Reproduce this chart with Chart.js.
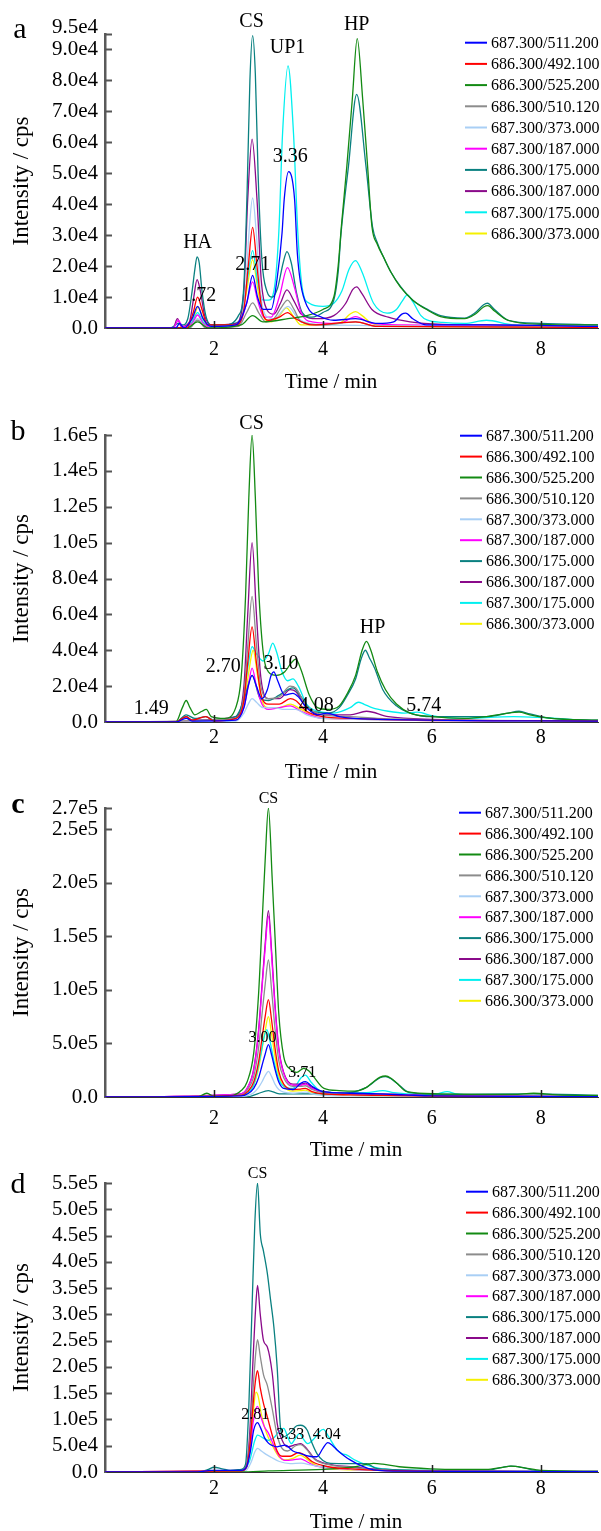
<!DOCTYPE html>
<html>
<head>
<meta charset="utf-8">
<script src="https://cdn.jsdelivr.net/npm/chart.js@4.4.1/dist/chart.umd.min.js"></script>
<style>
  html, body { margin: 0; padding: 0; background: #fff; }
  body { width: 601px; height: 1531px; position: relative; overflow: hidden; }
  canvas { position: absolute; left: 0; }
</style>
</head>
<body>
<canvas id="ca"></canvas>
<canvas id="cb"></canvas>
<canvas id="cc"></canvas>
<canvas id="cd"></canvas>
<script>
// values are read in units of 1e4 cps, time in min
const UNIT = 1e4;
const SERIF = '"Liberation Serif", "Times New Roman", serif';

const seriesNames = ["687.300/511.200", "686.300/492.100", "686.300/525.200", "686.300/510.120", "687.300/373.000",
  "687.300/187.000", "686.300/175.000", "686.300/187.000", "687.300/175.000", "686.300/373.000"];
const seriesColors = ["#0000ff", "#ff0000", "#138a13", "#8c8c8c", "#a9cff5",
  "#ff00ff", "#0a8080", "#8a0a8a", "#00f0f0", "#f5f000"];

const xTicks = [2, 4, 6, 8];

const aTickVals = [0, 1e4, 2e4, 3e4, 4e4, 5e4, 6e4, 7e4, 8e4, 9e4, 9.5e4];
const aTickLabels = ["0.0", "1.0e4", "2.0e4", "3.0e4", "4.0e4", "5.0e4", "6.0e4", "7.0e4", "8.0e4", "9.0e4", "9.5e4"];
const bTickVals = [0, 2e4, 4e4, 6e4, 8e4, 1e5, 1.2e5, 1.4e5, 1.6e5];
const bTickLabels = ["0.0", "2.0e4", "4.0e4", "6.0e4", "8.0e4", "1.0e5", "1.2e5", "1.4e5", "1.6e5"];
const cTickVals = [0, 5e4, 1e5, 1.5e5, 2e5, 2.5e5, 2.7e5];
const cTickLabels = ["0.0", "5.0e5", "1.0e5", "1.5e5", "2.0e5", "2.5e5", "2.7e5"];
const dTickVals = [0, 5e4, 1e5, 1.5e5, 2e5, 2.5e5, 3e5, 3.5e5, 4e5, 4.5e5, 5e5, 5.5e5];
const dTickLabels = ["0.0", "5.0e4", "1.0e5", "1.5e5", "2.0e5", "2.5e5", "3.0e5", "3.5e5", "4.0e5", "4.5e5", "5.0e5", "5.5e5"];

// ---- panel a ----
const aBlue = [[0,0],[1.3,0],[1.37,0.15],[1.45,0],[1.6,0.3],[1.7,0.7],[1.8,0.3],[1.95,0.05],[2.4,0.1],[2.6,0.8],[2.71,1.7],[2.8,1.0],[2.9,0.6],[3.05,0.6],[3.16,1.6],[3.25,3.07],[3.29,4.16],[3.37,5.05],[3.48,4.16],[3.53,2.43],[3.59,1.45],[3.71,0.7],[3.95,0.37],[4.2,0.25],[4.6,0.3],[5.0,0.15],[5.3,0.2],[5.45,0.45],[5.52,0.48],[5.65,0.3],[5.9,0.1],[7.0,0.1],[9.05,0.05]];
const aRed = [[0,0],[1.5,0],[1.62,0.5],[1.7,1.0],[1.78,0.6],[1.88,0.1],[2.4,0.1],[2.55,0.6],[2.63,2.0],[2.71,3.25],[2.79,2.0],[2.88,0.6],[3.0,0.25],[3.2,0.35],[3.35,0.5],[3.5,0.3],[3.8,0.1],[4.6,0.2],[5.0,0.05],[9.05,0.02]];
const aGreen = [[0,0],[1.5,0],[1.7,0.2],[1.9,0],[2.5,0.1],[2.71,0.4],[2.9,0.2],[3.36,0.3],[3.7,0.4],[4.0,0.6],[4.2,1.0],[4.28,2.0],[4.34,3.3],[4.44,5.24],[4.54,7.4],[4.63,9.35],[4.73,7.4],[4.82,5.24],[4.9,3.28],[5.0,2.7],[5.11,2.3],[5.25,1.8],[5.42,1.33],[5.65,0.9],[5.92,0.58],[6.16,0.37],[6.6,0.3],[6.8,0.45],[6.95,0.68],[7.03,0.72],[7.15,0.55],[7.4,0.25],[8,0.12],[9.05,0.1]];
const aGray = [[0,0],[1.55,0],[1.7,0.25],[1.85,0],[2.45,0.05],[2.6,0.5],[2.71,0.81],[2.82,0.5],[2.95,0.2],[3.1,0.3],[3.25,0.7],[3.35,0.9],[3.47,0.6],[3.6,0.2],[4.0,0.1],[4.6,0.2],[5.0,0.05],[9.05,0.02]];
const aLtBlue = [[0,0],[1.55,0],[1.7,0.3],[1.85,0],[2.45,0.1],[2.58,1.2],[2.64,3.0],[2.71,4.2],[2.78,3.0],[2.85,1.2],[2.95,0.4],[3.1,0.3],[3.36,0.7],[3.55,0.3],[4.0,0.1],[9.05,0.05]];
const aMagenta = [[0,0],[1.25,0],[1.35,0.25],[1.42,0.05],[1.6,0.15],[1.7,0.42],[1.8,0.15],[1.95,0.02],[2.45,0.1],[2.6,0.8],[2.71,1.49],[2.8,0.9],[2.92,0.35],[3.05,0.35],[3.2,1.0],[3.35,1.95],[3.48,1.3],[3.6,0.5],[3.8,0.2],[4.3,0.15],[4.6,0.37],[4.9,0.15],[5.5,0.1],[9.05,0.02]];
const aTeal = [[0,0],[1.2,0],[1.35,0.15],[1.42,0.1],[1.52,0.3],[1.6,1.2],[1.65,1.9],[1.69,2.3],[1.73,2.1],[1.78,1.2],[1.85,0.4],[1.95,0.1],[2.2,0.1],[2.45,0.4],[2.55,1.4],[2.61,4.5],[2.66,8.0],[2.71,9.45],[2.76,8.2],[2.81,5.0],[2.88,2.2],[2.97,1.2],[3.07,1.0],[3.17,1.3],[3.27,2.1],[3.34,2.47],[3.42,2.1],[3.52,1.1],[3.62,0.5],[3.8,0.35],[4.0,0.5],[4.2,0.9],[4.28,1.8],[4.33,3.0],[4.47,5.24],[4.62,7.55],[4.79,5.24],[4.91,3.28],[5.0,2.75],[5.11,2.3],[5.25,1.8],[5.42,1.35],[5.65,0.9],[5.92,0.6],[6.16,0.4],[6.6,0.32],[6.8,0.5],[6.95,0.75],[7.02,0.8],[7.15,0.6],[7.4,0.25],[8,0.15],[9.05,0.1]];
const aPurple = [[0,0],[1.25,0],[1.33,0.3],[1.4,0.05],[1.55,0.2],[1.63,1.0],[1.69,1.56],[1.75,1.2],[1.83,0.4],[1.95,0.1],[2.4,0.15],[2.55,1.2],[2.62,4.16],[2.7,6.1],[2.79,4.16],[2.87,1.5],[2.97,0.6],[3.1,0.45],[3.22,0.8],[3.34,1.23],[3.46,0.9],[3.6,0.45],[3.9,0.3],[4.2,0.4],[4.42,0.8],[4.55,1.25],[4.62,1.33],[4.72,1.1],[4.9,0.6],[5.2,0.35],[5.6,0.2],[6.2,0.12],[7.0,0.1],[9.05,0.05]];
const aCyan = [[0,0],[1.5,0],[1.6,0.2],[1.7,0.5],[1.8,0.2],[1.95,0.05],[2.45,0.2],[2.6,1.4],[2.71,2.5],[2.8,1.5],[2.9,0.9],[3.0,0.9],[3.1,1.2],[3.19,3.07],[3.26,6.3],[3.36,8.47],[3.46,6.3],[3.54,3.07],[3.62,1.3],[3.75,0.8],[4.0,0.7],[4.2,0.8],[4.35,1.2],[4.48,1.9],[4.6,2.18],[4.72,1.8],[4.93,0.8],[5.18,0.48],[5.35,0.6],[5.45,0.85],[5.55,1.07],[5.65,0.85],[5.8,0.4],[5.91,0.26],[6.2,0.18],[6.6,0.15],[7.0,0.25],[7.5,0.1],[9.05,0.05]];
const aYellow = [[0,0],[1.55,0],[1.63,0.35],[1.71,0.68],[1.8,0.3],[1.9,0.05],[2.45,0.1],[2.6,1.2],[2.71,2.2],[2.8,1.3],[2.9,0.4],[3.05,0.2],[3.2,0.4],[3.33,0.65],[3.45,0.4],[3.6,0.1],[4.3,0.15],[4.5,0.45],[4.6,0.53],[4.72,0.4],[4.9,0.15],[5.3,0.05],[9.05,0.02]];
const aNotes = [["CS", 2.69, 9.89], ["UP1", 3.35, 9.05], ["HP", 4.62, 9.8], ["HA", 1.70, 2.75], ["3.36", 3.4, 5.52], ["2.71", 2.71, 2.04], ["1.72", 1.72, 1.03]];

// ---- panel b ----
const bBlue = [[0,0],[1.3,0],[1.49,0.2],[1.6,0.05],[2.4,0.1],[2.55,0.8],[2.63,2.0],[2.7,2.6],[2.78,2.0],[2.88,1.3],[2.98,1.8],[3.05,2.6],[3.1,2.8],[3.17,2.3],[3.3,1.5],[3.45,1.6],[3.55,1.4],[3.7,0.8],[3.9,0.4],[4.08,0.5],[4.3,0.3],[5,0.15],[9.05,0.05]];
const bRed = [[0,0],[1.3,0],[1.49,0.3],[1.6,0.1],[1.85,0.3],[2.0,0.05],[2.4,0.2],[2.55,1.2],[2.62,3.3],[2.7,5.3],[2.78,3.3],[2.86,1.6],[3.0,1.0],[3.2,1.0],[3.4,1.3],[3.5,1.2],[3.7,0.6],[4.0,0.3],[4.5,0.2],[5,0.15],[9.05,0.05]];
const bGreen = [[0,0],[1.3,0],[1.42,0.8],[1.49,1.2],[1.56,0.8],[1.65,0.4],[1.78,0.6],[1.86,0.7],[1.95,0.3],[2.2,0.2],[2.4,0.8],[2.5,2.5],[2.58,7],[2.64,12.5],[2.7,16],[2.76,12.5],[2.82,7.5],[2.9,4],[3.0,2.8],[3.15,2.6],[3.3,2.8],[3.42,3.3],[3.5,3.5],[3.6,2.9],[3.75,1.5],[3.9,0.8],[4.1,0.7],[4.3,0.9],[4.45,1.6],[4.6,2.6],[4.72,4.0],[4.8,4.5],[4.88,4.0],[5.0,2.8],[5.15,1.8],[5.35,1.0],[5.6,0.5],[6.0,0.3],[6.6,0.2],[7.0,0.3],[7.4,0.5],[7.6,0.55],[7.8,0.4],[8.2,0.2],[9.05,0.1]];
const bGray = [[0,0],[2.4,0.2],[2.55,1.5],[2.62,4.2],[2.7,7],[2.78,4.3],[2.86,2.0],[3.0,1.3],[3.2,1.4],[3.4,2.0],[3.5,1.9],[3.7,0.9],[4.0,0.4],[4.5,0.3],[5,0.2],[9.05,0.05]];
const bLtBlue = [[0,0],[2.4,0.05],[2.55,0.5],[2.63,1.0],[2.7,1.3],[2.78,1.1],[2.9,0.8],[3.1,0.8],[3.3,0.7],[3.5,0.7],[3.7,0.4],[4.0,0.2],[9.05,0.03]];
const bMagenta = [[0,0],[2.4,0.1],[2.55,0.8],[2.63,2.0],[2.7,3.0],[2.78,2.0],[2.88,1.0],[3.0,0.7],[3.2,0.8],[3.4,0.9],[3.6,0.6],[4.0,0.2],[9.05,0.03]];
const bTeal = [[0,0],[1.3,0],[1.49,0.4],[1.65,0.2],[1.85,0.3],[2.0,0.1],[2.4,0.3],[2.55,1.2],[2.7,2.6],[2.85,1.3],[3.0,1.2],[3.2,1.5],[3.45,1.9],[3.6,1.4],[3.8,0.6],[4.1,0.5],[4.3,0.8],[4.45,1.5],[4.6,2.4],[4.7,3.5],[4.78,4.0],[4.85,3.6],[4.95,3.0],[5.1,1.8],[5.35,0.9],[5.6,0.5],[6,0.3],[7.0,0.3],[7.4,0.5],[7.6,0.6],[7.8,0.45],[8.2,0.2],[9.05,0.1]];
const bPurple = [[0,0],[1.3,0],[1.49,0.3],[1.6,0.1],[2.4,0.3],[2.55,2],[2.62,6],[2.7,10],[2.78,6],[2.86,2.5],[3.0,1.3],[3.2,1.3],[3.4,1.8],[3.5,1.7],[3.7,0.8],[4.0,0.4],[4.5,0.4],[4.8,0.6],[5.2,0.3],[6,0.15],[9.05,0.05]];
const bCyan = [[0,0],[1.3,0],[1.49,0.3],[1.6,0.1],[2.4,0.2],[2.55,1.5],[2.63,3.2],[2.7,4.2],[2.78,3.8],[2.9,3.4],[3.0,3.8],[3.08,4.4],[3.15,3.9],[3.25,2.8],[3.35,2.3],[3.45,2.4],[3.55,2.0],[3.7,1.0],[3.9,0.6],[4.2,0.5],[4.5,0.8],[4.65,1.1],[4.75,1.0],[4.9,0.8],[5.2,0.6],[5.5,0.5],[5.74,0.55],[6.0,0.35],[6.5,0.2],[7.5,0.3],[9.05,0.05]];
const bYellow = [[0,0],[2.4,0.1],[2.55,1.0],[2.63,2.6],[2.72,4.0],[2.8,2.6],[2.88,1.2],[3.0,0.8],[3.2,0.8],[3.4,1.0],[3.6,0.7],[4.0,0.2],[9.05,0.03]];
const bNotes = [["CS", 2.69, 16.6], ["HP", 4.91, 5.24], ["2.70", 2.17, 3.08], ["3.10", 3.23, 3.27], ["1.49", 0.85, 0.75], ["4.08", 3.88, 0.89], ["5.74", 5.85, 0.89]];

// ---- panel c ----
const cBlue = [[0,0],[2.5,0.1],[2.62,0.3],[2.73,0.8],[2.82,1.8],[2.88,2.9],[2.94,4.0],[3.0,4.9],[3.06,3.9],[3.12,2.6],[3.19,1.4],[3.28,0.8],[3.45,0.7],[3.6,1.3],[3.68,1.43],[3.8,1.0],[4.0,0.5],[4.5,0.35],[5.0,0.3],[5.5,0.2],[6,0.1],[9.05,0.03]];
const cRed = [[0,0],[2.5,0.15],[2.62,0.5],[2.73,1.4],[2.82,3.3],[2.88,5.4],[2.94,7.5],[3.0,9.1],[3.06,7.1],[3.12,4.6],[3.19,2.4],[3.28,1.2],[3.45,0.7],[3.6,0.75],[3.68,0.8],[3.8,0.5],[4.0,0.3],[4.5,0.2],[5.1,0.15],[6,0.08],[9.05,0.03]];
const cGreen = [[0,0],[1.7,0],[1.87,0.35],[2.0,0.05],[2.3,0.1],[2.5,0.6],[2.61,1.43],[2.73,4.1],[2.82,9.7],[2.88,15.9],[2.94,22.1],[3.0,27.0],[3.07,20.3],[3.13,14.0],[3.19,7.8],[3.28,3.8],[3.4,2.6],[3.52,2.3],[3.65,2.68],[3.75,2.4],[3.83,1.9],[4.02,0.81],[4.3,0.6],[4.6,0.55],[4.8,0.9],[4.93,1.43],[5.05,1.85],[5.15,1.96],[5.25,1.75],[5.36,1.28],[5.54,0.5],[6.1,0.3],[7.5,0.25],[7.87,0.35],[8.3,0.2],[9.05,0.15]];
const cGray = [[0,0],[2.5,0.2],[2.62,0.7],[2.73,1.9],[2.82,4.6],[2.88,7.6],[2.94,10.5],[3.0,12.8],[3.06,9.9],[3.12,6.4],[3.19,3.4],[3.28,1.8],[3.45,1.0],[3.6,1.0],[3.68,1.05],[3.8,0.7],[4.0,0.4],[4.5,0.3],[5.1,0.25],[6,0.1],[9.05,0.05]];
const cLtBlue = [[0,0],[2.5,0.05],[2.62,0.15],[2.73,0.4],[2.82,0.9],[2.88,1.4],[2.94,2.0],[3.0,2.4],[3.06,1.9],[3.12,1.2],[3.19,0.7],[3.28,0.45],[3.45,0.35],[3.68,0.45],[3.9,0.2],[4.5,0.1],[9.05,0.02]];
const cMagenta = [[0,0],[2.5,0.3],[2.62,0.9],[2.73,2.5],[2.82,6.1],[2.88,10.0],[2.94,13.9],[3.0,16.9],[3.06,13.1],[3.12,8.4],[3.19,4.4],[3.28,2.2],[3.45,1.1],[3.6,1.1],[3.68,1.2],[3.8,0.8],[4.0,0.45],[4.5,0.3],[5.1,0.25],[6,0.12],[9.05,0.05]];
const cTeal = [[0,0],[2.6,0],[2.8,0.3],[3.0,0.6],[3.2,0.3],[3.7,0.3],[4.3,0.3],[4.8,0.9],[5.05,1.8],[5.15,1.9],[5.25,1.7],[5.4,1.1],[5.6,0.4],[6.2,0.25],[7.8,0.3],[9.05,0.15]];
const cPurple = [[0,0],[2.5,0.3],[2.62,0.9],[2.73,2.6],[2.82,6.3],[2.88,10.3],[2.94,14.3],[3.0,17.4],[3.06,13.5],[3.12,8.7],[3.19,4.6],[3.28,2.3],[3.45,1.2],[3.6,1.2],[3.68,1.3],[3.8,0.9],[4.0,0.5],[4.5,0.35],[5.1,0.3],[6,0.15],[9.05,0.05]];
const cCyan = [[0,0],[2.5,0.1],[2.62,0.35],[2.72,1.0],[2.8,2.5],[2.86,4.0],[2.92,5.6],[2.97,6.3],[3.03,5.2],[3.1,3.4],[3.18,1.8],[3.28,1.0],[3.45,0.8],[3.6,1.8],[3.68,2.05],[3.78,1.4],[3.95,0.6],[4.3,0.4],[4.8,0.4],[5.1,0.6],[5.3,0.4],[5.8,0.25],[6.1,0.3],[6.28,0.5],[6.45,0.3],[7,0.15],[9.05,0.05]];
const cYellow = [[0,0],[2.5,0.1],[2.62,0.4],[2.73,1.1],[2.82,2.7],[2.88,4.4],[2.94,6.2],[3.0,7.5],[3.06,5.8],[3.12,3.8],[3.19,2.0],[3.28,1.0],[3.45,0.55],[3.6,0.6],[3.68,0.65],[3.8,0.4],[4.0,0.25],[4.5,0.15],[5.1,0.1],[9.05,0.03]];
const cNotes = [["CS", 3.0, 27.9], ["3.00", 2.89, 5.5], ["3.71", 3.62, 2.3]];

// ---- panel d ----
const dBlue = [[0,0],[1.7,0],[1.95,0.3],[2.2,0.3],[2.5,0.3],[2.6,1],[2.67,4],[2.73,8],[2.8,9.4],[2.86,8.3],[2.93,6.5],[3.0,5.5],[3.08,5.0],[3.16,4.8],[3.31,5.1],[3.45,4.0],[3.59,3.5],[3.75,3.0],[3.89,2.9],[4.0,4.5],[4.09,5.6],[4.18,5.0],[4.26,4.2],[4.4,3.0],[4.5,2.3],[4.7,1.2],[4.93,0.4],[5.5,0.15],[9.05,0.05]];
const dRed = [[0,0],[2.5,0.2],[2.6,1],[2.66,5],[2.72,13],[2.77,18],[2.8,19.3],[2.85,16],[2.91,13],[2.98,10.5],[3.07,7],[3.16,4],[3.25,3.0],[3.4,3.0],[3.55,3.7],[3.65,3.3],[3.8,2.0],[4.1,1.0],[4.5,0.6],[5,0.3],[9.05,0.05]];
const dGreen = [[0,0],[2.5,0],[3.0,0.2],[4.0,0.5],[4.6,1.0],[4.93,1.65],[5.1,1.5],[5.4,1.0],[6.0,0.6],[6.5,0.5],[7.0,0.5],[7.3,0.9],[7.45,1.1],[7.7,0.8],[8.0,0.3],[9.05,0.1]];
const dGray = [[0,0],[2.5,0.2],[2.6,1.2],[2.66,6],[2.72,16],[2.77,23],[2.8,25.2],[2.85,22],[2.91,18.5],[2.98,16.5],[3.07,12],[3.16,7],[3.25,4.5],[3.35,4.0],[3.5,5.0],[3.59,5.2],[3.7,4.3],[3.85,2.4],[4.1,1.4],[4.5,0.9],[5,0.4],[6,0.2],[9.05,0.1]];
const dLtBlue = [[0,0],[2.5,0.1],[2.6,0.4],[2.68,1.8],[2.75,3.8],[2.8,4.5],[2.87,4.0],[2.95,3.4],[3.05,2.8],[3.2,2.0],[3.4,1.6],[3.6,1.7],[3.8,1.3],[4.1,0.8],[4.5,0.5],[5,0.3],[9.05,0.05]];
const dMagenta = [[0,0],[2.5,0.2],[2.6,0.9],[2.66,4],[2.72,9.5],[2.77,12],[2.8,12.5],[2.86,10.5],[2.93,8.5],[3.0,7.4],[3.1,5],[3.2,3],[3.3,2.2],[3.45,2.3],[3.59,2.5],[3.7,2.0],[3.85,1.2],[4.1,0.8],[4.5,0.5],[5,0.3],[9.05,0.05]];
const dTeal = [[0,0],[1.7,0],[1.9,0.5],[2.0,0.9],[2.15,0.6],[2.3,0.3],[2.5,0.5],[2.58,1.5],[2.64,12.4],[2.7,31.5],[2.75,47.3],[2.8,55],[2.85,45.4],[2.91,42],[2.98,37.8],[3.04,32.7],[3.1,27.6],[3.16,20],[3.22,8.6],[3.28,6.7],[3.4,7.5],[3.52,8.8],[3.59,8.9],[3.71,8.0],[3.8,5.5],[3.89,3.5],[4.0,2.2],[4.14,1.65],[4.5,1.6],[4.8,1.6],[4.95,0.8],[5.2,0.5],[6,0.3],[7.0,0.3],[7.3,0.9],[7.45,1.1],[7.65,0.9],[7.9,0.3],[9.05,0.1]];
const dPurple = [[0,0],[2.5,0.3],[2.6,1.5],[2.66,8],[2.72,22],[2.77,32],[2.8,35.5],[2.85,30],[2.91,25],[2.98,23.8],[3.07,18.8],[3.16,9.3],[3.25,6.1],[3.35,4.8],[3.5,5.2],[3.59,5.4],[3.7,4.5],[3.85,2.5],[4.1,1.5],[4.5,1.0],[5,0.5],[6,0.2],[9.05,0.1]];
const dCyan = [[0,0],[2.5,0.2],[2.65,2],[2.75,6],[2.8,7],[2.9,6.5],[3.0,6.0],[3.1,6.5],[3.2,7.8],[3.28,8.3],[3.36,6.5],[3.42,5.4],[3.5,6.5],[3.57,7.3],[3.64,6.3],[3.72,5.4],[3.85,6.5],[3.95,7.8],[4.01,8.1],[4.1,6.8],[4.26,4.2],[4.35,3.5],[4.44,3.2],[4.6,2.2],[4.81,1.3],[5.1,0.6],[6,0.3],[6.5,0.3],[7,0.15],[9.05,0.05]];
const dYellow = [[0,0],[2.5,0.1],[2.6,0.8],[2.66,4],[2.72,11],[2.77,15.2],[2.81,14.5],[2.87,11],[2.93,8.5],[3.0,6.5],[3.1,4.5],[3.2,2.8],[3.3,2.3],[3.45,2.6],[3.58,3.2],[3.7,2.5],[3.85,1.4],[4.1,0.7],[4.5,0.4],[9.05,0.05]];
const dNotes = [["CS", 2.8, 56.7], ["2.81", 2.76, 10.8], ["3.33", 3.4, 7.0], ["4.04", 4.07, 7.0]];

// layout of the four panels (page pixels)
const panels = [
  { id: "ca", top: 0, height: 400, padTop: 34, plotH: 294, yMax: 9.5e4, tickVals: aTickVals, tickLabels: aTickLabels,
    series: [aBlue, aRed, aGreen, aGray, aLtBlue, aMagenta, aTeal, aPurple, aCyan, aYellow], notes: aNotes, noteSize: 20,
    letter: "a", bold: false, letterPos: [20, 30], legendPos: [465, 42.7], legendDy: 21.2, xTitlePos: [331, 382], xPad: 10, topShift: -7 },
  { id: "cb", top: 385, height: 410, padTop: 50, plotH: 287, yMax: 1.6e5, tickVals: bTickVals, tickLabels: bTickLabels,
    series: [bBlue, bRed, bGreen, bGray, bLtBlue, bMagenta, bTeal, bPurple, bCyan, bYellow], notes: bNotes, noteSize: 20,
    letter: "b", bold: false, letterPos: [18, 432], legendPos: [460, 435.7], legendDy: 20.9, xTitlePos: [331, 772], xPad: 4, topShift: 0 },
  { id: "cc", top: 758, height: 410, padTop: 50, plotH: 289, yMax: 2.7e5, tickVals: cTickVals, tickLabels: cTickLabels,
    series: [cBlue, cRed, cGreen, cGray, cLtBlue, cMagenta, cTeal, cPurple, cCyan, cYellow], notes: cNotes, noteSize: 16,
    letter: "c", bold: true, letterPos: [18, 805], legendPos: [459, 812.7], legendDy: 20.9, xTitlePos: [356, 1150], xPad: 10, topShift: 0 },
  { id: "cd", top: 1133, height: 398, padTop: 50, plotH: 289, yMax: 5.5e5, tickVals: dTickVals, tickLabels: dTickLabels,
    series: [dBlue, dRed, dGreen, dGray, dLtBlue, dMagenta, dTeal, dPurple, dCyan, dYellow], notes: dNotes, noteSize: 16,
    letter: "d", bold: false, letterPos: [18, 1185], legendPos: [466, 1191.7], legendDy: 20.9, xTitlePos: [356, 1522], xPad: 5, topShift: 0 }
];

// inward ticks, peak labels, legend and titles
const decor = {
  id: "decor",
  afterDraw(chart) {
    const p = chart.options.plugins.decor.panel;
    const ctx = chart.ctx, area = chart.chartArea;
    const xs = chart.scales.x, ys = chart.scales.y;
    ctx.save();

    ctx.strokeStyle = "#555";
    ctx.lineWidth = 2;
    p.tickVals.forEach(function (v) {
      if (v === 0) return;
      const y = Math.round(ys.getPixelForValue(v)) + 0.5;
      ctx.beginPath();
      ctx.moveTo(area.left, y);
      ctx.lineTo(area.left + 7, y);
      ctx.stroke();
    });
    ctx.strokeStyle = "#222";
    ctx.lineWidth = 1.5;
    xTicks.forEach(function (t) {
      const x = Math.round(xs.getPixelForValue(t)) + 0.5;
      ctx.beginPath();
      ctx.moveTo(x, area.bottom);
      ctx.lineTo(x, area.bottom - 7);
      ctx.stroke();
    });

    ctx.fillStyle = "#000";
    ctx.textAlign = "center";
    ctx.textBaseline = "middle";

    // top tick label drawn a little above the axis end where the original has it
    if (p.topShift) {
      const last = p.tickVals.length - 1;
      ctx.textAlign = "right";
      ctx.font = "21px " + SERIF;
      ctx.fillText(p.tickLabels[last], area.left - 7, ys.getPixelForValue(p.tickVals[last]) + p.topShift);
      ctx.textAlign = "center";
    }

    ctx.font = p.noteSize + "px " + SERIF;
    p.notes.forEach(function (n) {
      ctx.fillText(n[0], xs.getPixelForValue(n[1]), ys.getPixelForValue(n[2] * UNIT));
    });

    // legend
    ctx.font = "16px " + SERIF;
    ctx.textAlign = "left";
    ctx.lineWidth = 2;
    seriesNames.forEach(function (name, i) {
      const y = p.legendPos[1] - p.top + i * p.legendDy;
      ctx.strokeStyle = seriesColors[i];
      ctx.beginPath();
      ctx.moveTo(p.legendPos[0], y);
      ctx.lineTo(p.legendPos[0] + 22, y);
      ctx.stroke();
      ctx.fillText(name, p.legendPos[0] + 26, y + 1);
    });

    // panel letter
    ctx.textAlign = "center";
    ctx.font = (p.bold ? "bold " : "") + "30px " + SERIF;
    ctx.fillText(p.letter, p.letterPos[0], p.letterPos[1] - p.top);

    // axis titles
    ctx.font = "21px " + SERIF;
    ctx.fillText("Time / min", p.xTitlePos[0], p.xTitlePos[1] - p.top);
    ctx.font = "23px " + SERIF;
    ctx.translate(22, (area.top + area.bottom) / 2);
    ctx.rotate(-Math.PI / 2);
    ctx.fillText("Intensity / cps", 0, 0);
    ctx.restore();
  }
};

panels.forEach(function (p) {
  const canvas = document.getElementById(p.id);
  canvas.width = 601;
  canvas.height = p.height;
  canvas.style.top = p.top + "px";

  const datasets = p.series.map(function (s, i) {
    return {
      label: seriesNames[i],
      data: s.map(function (pt) { return { x: pt[0], y: pt[1] * UNIT }; }),
      borderColor: seriesColors[i],
      borderWidth: 1.3,
      pointRadius: 0,
      fill: false,
      cubicInterpolationMode: "monotone"
    };
  });

  new Chart(canvas, {
    type: "line",
    data: { datasets: datasets },
    options: {
      responsive: false,
      animation: false,
      events: [],
      parsing: false,
      layout: { padding: { top: p.padTop, right: 3, left: 0, bottom: 0 } },
      plugins: {
        legend: { display: false },
        tooltip: { enabled: false },
        decor: { panel: p }
      },
      scales: {
        x: {
          type: "linear",
          min: 0,
          max: 9.05,
          afterBuildTicks: function (s) { s.ticks = xTicks.map(function (v) { return { value: v }; }); },
          afterFit: function (s) { s.height = p.height - p.padTop - p.plotH; },
          grid: { display: false, drawTicks: false },
          border: { display: true, color: "#333", width: 1 },
          ticks: { font: { family: SERIF, size: 20 }, color: "#000", padding: p.xPad, maxRotation: 0, autoSkip: false }
        },
        y: {
          min: 0,
          max: p.yMax,
          afterBuildTicks: function (s) { s.ticks = p.tickVals.map(function (v) { return { value: v }; }); },
          afterFit: function (s) { s.width = 105; },
          grid: { display: false, drawTicks: false },
          border: { display: true, color: "#5a5a5a", width: 2.5 },
          ticks: {
            font: { family: SERIF, size: 21 },
            color: "#000",
            padding: 7,
            autoSkip: false,
            callback: function (v, i) {
              if (p.topShift && i === p.tickVals.length - 1) return "";
              return p.tickLabels[i];
            }
          }
        }
      }
    },
    plugins: [decor]
  });
});
</script>
</body>
</html>
